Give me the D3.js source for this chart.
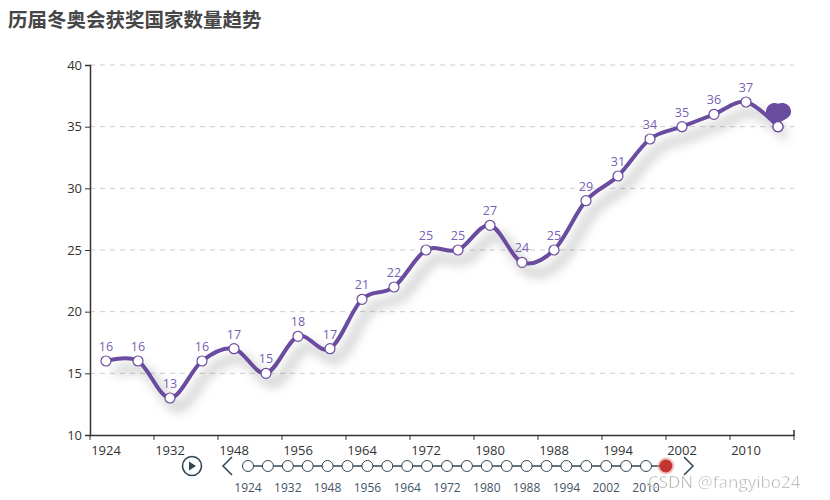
<!DOCTYPE html>
<html><head><meta charset="utf-8">
<script src="https://cdn.jsdelivr.net/npm/d3@7/dist/d3.min.js"></script>
<style>body{margin:0;background:#fff;}svg{display:block;font-family:"Microsoft YaHei","Noto Sans CJK SC","Open Sans",sans-serif;}</style>
</head><body><svg id="c" width="830" height="500"></svg>
<script>
const title = "历届冬奥会获奖国家数量趋势";
const years = ["1924","1928","1932","1936","1948","1952","1956","1960","1964","1968","1972","1976","1980","1984","1988","1992","1994","1998","2002","2006","2010","2014"];
const counts = [16,16,13,16,17,15,18,17,21,22,25,25,27,24,25,29,31,34,35,36,37,35];
const yTicks = [10,15,20,25,30,35,40];
const watermark = "CSDN @fangyibo24";

(function(){
const svg = d3.select("#c");
const pL = 90, pR = 794, pT = 65, pB = 435;

const defs = svg.append("defs");
const f = defs.append("filter").attr("id","sh").attr("x","-20%").attr("y","-20%").attr("width","140%").attr("height","160%");
f.append("feDropShadow").attr("dx",8).attr("dy",10).attr("stdDeviation",6).attr("flood-color","#000").attr("flood-opacity",0.4);

svg.append("text").attr("x",8).attr("y",27).attr("font-size",19.5).attr("font-weight","bold").attr("fill","#464646").text(title);

const x = d3.scaleBand().domain(years).range([pL,pR]);
const y = d3.scaleLinear().domain([10,40]).range([pB,pT]);

svg.append("g").selectAll("line").data(yTicks.filter(t=>t>10)).join("line")
  .attr("x1",pL).attr("x2",pR).attr("y1",d=>y(d)).attr("y2",d=>y(d))
  .attr("stroke","#ccc").attr("stroke-dasharray","5,5");

const ya = svg.append("g").attr("transform",`translate(${pL},0)`)
  .call(d3.axisLeft(y).tickValues(yTicks).tickSize(5).tickPadding(3));
ya.select(".domain").attr("stroke","#333").attr("stroke-width",1.5);
ya.selectAll(".tick line").attr("stroke","#333");
ya.selectAll("text").attr("font-size",13).attr("fill","#333").attr("font-family","'Open Sans',sans-serif");

const xa = svg.append("g").attr("transform",`translate(0,${pB})`)
  .call(d3.axisBottom(x).tickValues([]).tickSizeOuter(0));
xa.select(".domain").attr("stroke","#333").attr("stroke-width",1.5).attr("d",`M${pL},0.5H${pR}V-5`);
const step = x.step();
const tickIdx = d3.range(0, years.length+1, 2);
xa.selectAll(".tk").data(tickIdx).join("line").attr("class","tk")
  .attr("x1",i=>pL+i*step).attr("x2",i=>pL+i*step).attr("y1",0).attr("y2",5).attr("stroke","#333");
xa.selectAll(".lb").data(years.filter((d,i)=>i%2===0)).join("text").attr("class","lb")
  .attr("x",d=>x(d)+x.bandwidth()/2).attr("y",20).attr("text-anchor","middle")
  .attr("font-size",13).attr("fill","#333").attr("font-family","'Open Sans',sans-serif").text(d=>d);

const cx = d => x(d)+x.bandwidth()/2;
const pts = years.map((d,i)=>[cx(d), y(counts[i])]);

const line = d3.line().curve(d3.curveCardinal.tension(0));
svg.append("path").attr("d",line(pts)).attr("fill","none").attr("stroke","#6a4c9f").attr("stroke-width",4)
  .attr("filter","url(#sh)");

svg.append("g").selectAll("circle").data(pts).join("circle")
  .attr("cx",d=>d[0]).attr("cy",d=>d[1]).attr("r",5).attr("fill","#fff").attr("stroke","#6a4c9f").attr("stroke-width",1.2);

svg.append("g").selectAll("text").data(counts.slice(0,-1)).join("text")
  .attr("x",(d,i)=>pts[i][0]).attr("y",(d,i)=>pts[i][1]-10).attr("text-anchor","middle")
  .attr("font-size",12.5).attr("fill","#7461b3").attr("font-family","'Open Sans',sans-serif").text(d=>d);

const lp = pts[pts.length-1];
svg.append("path").attr("transform",`translate(${lp[0]},${lp[1]})`)
  .attr("d","M0,-3 C-5,-7 -13,-9 -12,-16 C-11,-23 -4,-25 0,-23 C5,-25 12,-23 13,-16 C14,-9 5,-7 0,-3 Z")
  .attr("fill","#6a4c9f");
svg.append("circle").attr("cx",lp[0]).attr("cy",lp[1]).attr("r",5).attr("fill","#fff").attr("stroke","#6a4c9f").attr("stroke-width",1.2);

const tlc = "#304654";
const tl = svg.append("g");
const tx0 = 248, tstep = 19.9, ty = 466;
tl.append("circle").attr("cx",192).attr("cy",ty).attr("r",9.5).attr("fill","none").attr("stroke",tlc).attr("stroke-width",1.6);
tl.append("path").attr("d",`M189,${ty-4.5} L196,${ty} L189,${ty+4.5} Z`).attr("fill",tlc);
tl.append("path").attr("d",`M232,${ty-9} L223,${ty} L232,${ty+9}`).attr("fill","none").attr("stroke",tlc).attr("stroke-width",1.5);
tl.append("path").attr("d",`M684,${ty-9} L693,${ty} L684,${ty+9}`).attr("fill","none").attr("stroke",tlc).attr("stroke-width",1.5);
const tpos = years.map((d,i)=>tx0+i*tstep);
tl.append("line").attr("x1",tpos[0]).attr("x2",tpos[tpos.length-1]).attr("y1",ty).attr("y2",ty).attr("stroke",tlc).attr("stroke-width",1.5);
tl.selectAll(".tc").data(years.slice(0,-1)).join("circle").attr("class","tc")
  .attr("cx",(d,i)=>tpos[i]).attr("cy",ty).attr("r",5.5).attr("fill","#fff").attr("stroke",tlc).attr("stroke-width",1);
tl.append("circle").attr("cx",tpos[tpos.length-1]).attr("cy",ty).attr("r",8.5).attr("fill","#e88").attr("opacity",0.5);
tl.append("circle").attr("cx",tpos[tpos.length-1]).attr("cy",ty).attr("r",6.5).attr("fill","#c23531");
tl.selectAll(".tlb").data(years.filter((d,i)=>i%2===0 && i<21)).join("text").attr("class","tlb")
  .attr("x",(d,i)=>tpos[i*2]).attr("y",492).attr("text-anchor","middle").attr("font-size",12)
  .attr("fill","#445566").attr("font-family","'Open Sans',sans-serif").text(d=>d);

svg.append("text").attr("x",648).attr("y",488).attr("font-size",17).attr("fill","#999").attr("opacity",0.85)
  .attr("stroke","#fff").attr("stroke-width",0.5).attr("font-family","'Open Sans',sans-serif").text(watermark);
})();
</script></body></html>
